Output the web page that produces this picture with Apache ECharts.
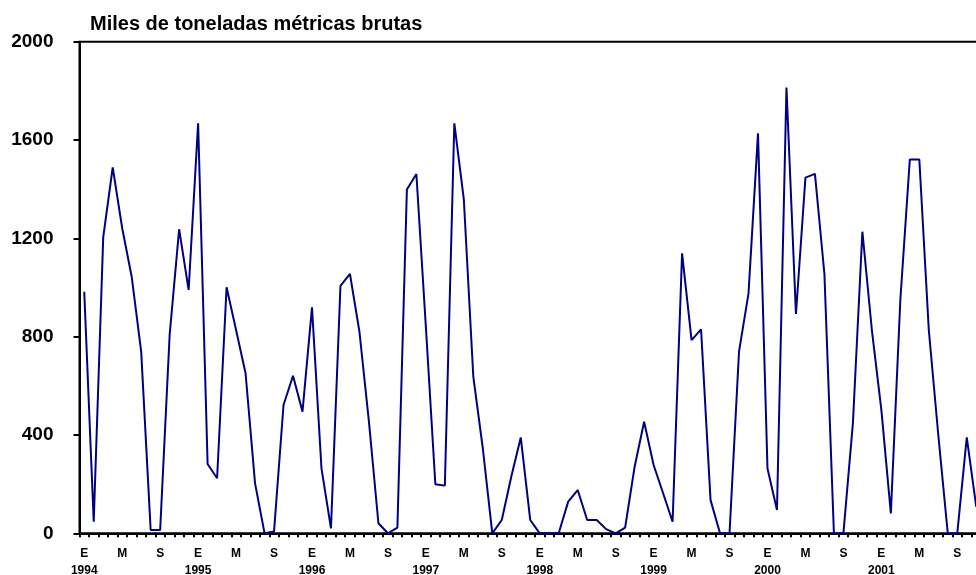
<!DOCTYPE html>
<html>
<head>
<meta charset="utf-8">
<script src="https://cdn.jsdelivr.net/npm/echarts@6/dist/echarts.min.js"></script>
<style>
html,body{margin:0;padding:0;background:#fff;}
#c{width:976px;height:575px;}
</style>
</head>
<body>
<div id="c"></div>
<script>
var years = [1994, 1995, 1996, 1997, 1998, 1999, 2000, 2001];
var monthLetters = ['E','F','M','A','M','J','J','A','S','O','N','D'];
var values = [
  983, 47, 1204, 1489, 1241, 1044, 739, 13, 13, 807, 1237, 990,
  1668, 282, 224, 1001, 827, 651, 203, 0, 7, 522, 641, 495,
  919, 264, 20, 1007, 1055, 820, 454, 41, 0, 23, 1399, 1462,
  840, 200, 194, 1668, 1359, 637, 346, 0, 54, 230, 390, 54,
  0, 0, 0, 129, 176, 54, 54, 17, 0, 23, 271, 454,
  278, 163, 47, 1139, 786, 830, 135, 0, 0, 739, 976, 1627,
  264, 95, 1814, 892, 1447, 1462, 1055, 0, 0, 447, 1227, 827,
  502, 81, 949, 1521, 1521, 827, 400, 0, 0, 390, 108
];
var yTicks = [0, 400, 800, 1200, 1600, 2000];
var title = 'Miles de toneladas métricas brutas';

var categories = [];
for (var i = 0; i < values.length; i++) {
  var y = years[Math.floor(i / 12)];
  var m = i % 12;
  categories.push(monthLetters[m] + '|' + y + '|' + m);
}

var chart = echarts.init(document.getElementById('c'), null, {renderer: 'canvas'});
chart.setOption({
  animation: false,
  backgroundColor: '#fff',
  title: {
    text: title,
    left: 85, top: 9,
    textStyle: {fontFamily: 'Liberation Sans, Arial', fontWeight: 'bold', fontSize: 20, color: '#000'}
  },
  grid: {
    left: 79.5, width: 901.5, top: 41.7, bottom: 41.7,
    outerBoundsMode: 'none',
    containLabel: false,
    show: true, borderColor: '#000', borderWidth: 2, backgroundColor: 'transparent'
  },
  xAxis: {
    type: 'category',
    data: categories,
    boundaryGap: true,
    axisLine: {lineStyle: {color: '#000', width: 2}},
    axisTick: {show: true, interval: 0, length: 4, lineStyle: {color: '#000', width: 2}},
    axisLabel: {
      interval: 3,
      margin: 12,
      color: '#000',
      fontFamily: 'Liberation Sans, Arial',
      fontWeight: 'bold',
      fontSize: 12,
      lineHeight: 17,
      formatter: function (v) {
        var p = v.split('|');
        return p[2] === '0' ? p[0] + '\n' + p[1] : p[0];
      }
    },
    splitLine: {show: false}
  },
  yAxis: {
    type: 'value',
    min: yTicks[0], max: yTicks[yTicks.length - 1], interval: 400,
    axisLine: {show: true, lineStyle: {color: '#000', width: 2}},
    axisTick: {show: true, length: 6, lineStyle: {color: '#000', width: 2}},
    axisLabel: {
      margin: 26,
      color: '#000',
      fontFamily: 'Liberation Sans, Arial',
      fontWeight: 'bold',
      fontSize: 19,
      formatter: function (v) { return String(v); }
    },
    splitLine: {show: false}
  },
  series: [{
    type: 'line',
    data: values,
    showSymbol: false,
    symbol: 'none',
    lineStyle: {color: '#000080', width: 2},
    itemStyle: {color: '#000080'}
  }]
});
</script>
</body>
</html>
